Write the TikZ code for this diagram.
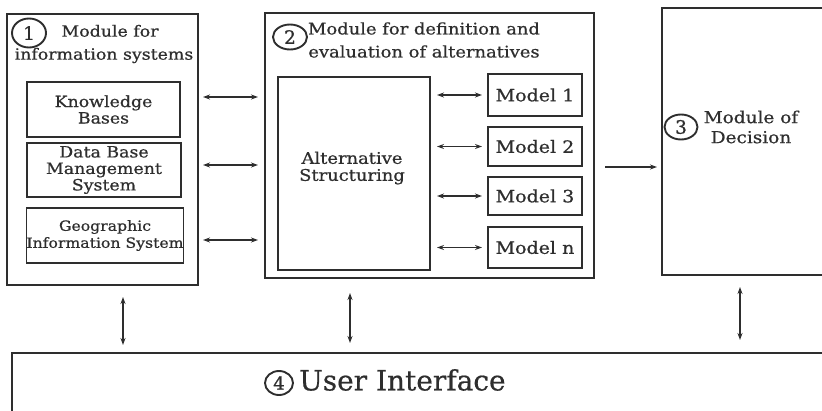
\documentclass[tikz,border=0pt]{standalone}
\usepackage{fontspec}
\setmainfont{DejaVu Serif}
\newfontfamily\widefont[FakeStretch=1.12,FakeBold=0.7]{DejaVu Serif}
\newfontfamily\numfont[FakeBold=0.9]{DejaVu Serif}
\newfontfamily\uifont[FakeBold=0.5]{DejaVu Serif}
\usetikzlibrary{arrows.meta,shapes.geometric}
\definecolor{ink}{HTML}{2E2E2E}
\tikzset{
  outerbox/.style={draw=ink, line width=1.8pt, inner sep=0pt, outer sep=0pt},
  innerbox/.style={draw=ink, line width=1.5pt, inner sep=0pt, outer sep=0pt, align=center, text=ink,
                   font=\widefont\fontsize{15.5}{16.5}\selectfont},
  numcirc/.style={ellipse, draw=ink, line width=1.9pt, inner sep=0pt, text=ink,
                  font=\numfont\fontsize{18.5}{18.5}\selectfont},
  headtext/.style={align=center, text=ink, inner sep=0pt, font=\widefont\fontsize{15.5}{23}\selectfont},
  tip/.tip={Stealth[length=7pt,width=5pt]},
  dbl/.style={tip-tip, draw=ink, line width=1.2pt},
  sgl/.style={-tip, draw=ink, line width=1.2pt}
}
\begin{document}
\begin{tikzpicture}[x=1pt,y=-1pt]
\useasboundingbox (0,0) rectangle (822,410);
% module 1
\node[outerbox, minimum width=191pt, minimum height=271pt] (mod1) at (102.5,149.5) {};
\node[numcirc, minimum width=34pt, minimum height=29pt] (c1) at (29,33) {1};
\node[headtext] (h1) at (104,44) {\hspace*{12pt}Module for\\information systems};
\node[innerbox, minimum width=153pt, minimum height=55pt] (kb) at (103.5,109.5) {Knowledge\\Bases};
\node[innerbox, minimum width=154pt, minimum height=54pt] (dbms) at (104,170) {Data Base\\Management\\System};
\node[innerbox, minimum width=154pt, minimum height=55pt, font=\widefont\fontsize{14}{17}\selectfont] (gis) at (105,235.5) {Geographic\\Information System};
% module 2
\node[outerbox, minimum width=329pt, minimum height=265pt] (mod2) at (429.5,145.5) {};
\node[numcirc, minimum width=34pt, minimum height=25pt] (c2) at (290,37) {2};
\node[headtext, font=\widefont\fontsize{16}{23}\selectfont] (h2) at (424,40) {Module for definition and\\evaluation of alternatives};
\node[innerbox, minimum width=152pt, minimum height=193pt] (alt) at (354,173.5) {};
\node[headtext, font=\widefont\fontsize{16}{17}\selectfont] (altt) at (352,168) {Alternative\\Structuring};
\node[innerbox, minimum width=94pt, minimum height=42pt, font=\widefont\fontsize{17}{17}\selectfont] (md1) at (535,95) {Model 1};
\node[innerbox, minimum width=94pt, minimum height=39pt, font=\widefont\fontsize{17}{17}\selectfont] (md2) at (535,146.5) {Model 2};
\node[innerbox, minimum width=94pt, minimum height=38pt, font=\widefont\fontsize{17}{17}\selectfont] (md3) at (535,196) {Model 3};
\node[innerbox, minimum width=94pt, minimum height=41pt, font=\widefont\fontsize{17}{17}\selectfont] (mdn) at (535,247.5) {Model n};
% module 3
\node[outerbox, minimum width=170pt, minimum height=267pt] (mod3) at (747,141.5) {};
\node[numcirc, minimum width=33pt, minimum height=25pt] (c3) at (681,127) {3};
\node[headtext, font=\widefont\fontsize{16.5}{20}\selectfont] (h3) at (751,127) {Module of\\Decision};
% module 4
\node[outerbox, minimum width=820pt, minimum height=70pt] (mod4) at (422,388) {};
\node[numcirc, minimum width=28pt, minimum height=24pt, font=\numfont\fontsize{18}{18}\selectfont] (c4) at (279,383) {4};
\node[text=ink, inner sep=0pt, anchor=west, font=\uifont\fontsize{28}{28}\selectfont] (ui) at (299,380) {User Interface};
% arrows module 1 - module 2
\coordinate (a1) at (0,97);
\coordinate (a2) at (0,165);
\coordinate (a3) at (0,240);
\draw[dbl, shorten <=5pt, shorten >=7pt] (mod1.east |- a1) -- (mod2.west |- a1);
\draw[dbl, shorten <=5pt, shorten >=7pt] (mod1.east |- a2) -- (mod2.west |- a2);
\draw[dbl, shorten <=5pt, shorten >=7pt] (mod1.east |- a3) -- (mod2.west |- a3);
% arrows alternatives - models
\draw[dbl, shorten <=7pt, shorten >=6pt] (alt.east |- md1) -- (md1.west);
\draw[dbl, shorten <=7pt, shorten >=6pt] (alt.east |- md2) -- (md2.west);
\draw[dbl, shorten <=7pt, shorten >=6pt] (alt.east |- md3) -- (md3.west);
\draw[dbl, shorten <=7pt, shorten >=6pt] (alt.east |- mdn) -- (mdn.west);
% module 2 -> module 3
\coordinate (a4) at (0,167);
\draw[sgl, shorten <=11pt, shorten >=5pt] (mod2.east |- a4) -- (mod3.west |- a4);
% vertical arrows to user interface
\coordinate (v1) at (123,0);
\coordinate (v2) at (350,0);
\coordinate (v3) at (740,0);
\draw[dbl, shorten <=12pt, shorten >=8pt] (mod1.south -| v1) -- (mod4.north -| v1);
\draw[dbl, shorten <=15pt, shorten >=10pt] (mod2.south -| v2) -- (mod4.north -| v2);
\draw[dbl, shorten <=12pt, shorten >=13pt] (mod3.south -| v3) -- (mod4.north -| v3);
\end{tikzpicture}
\end{document}
